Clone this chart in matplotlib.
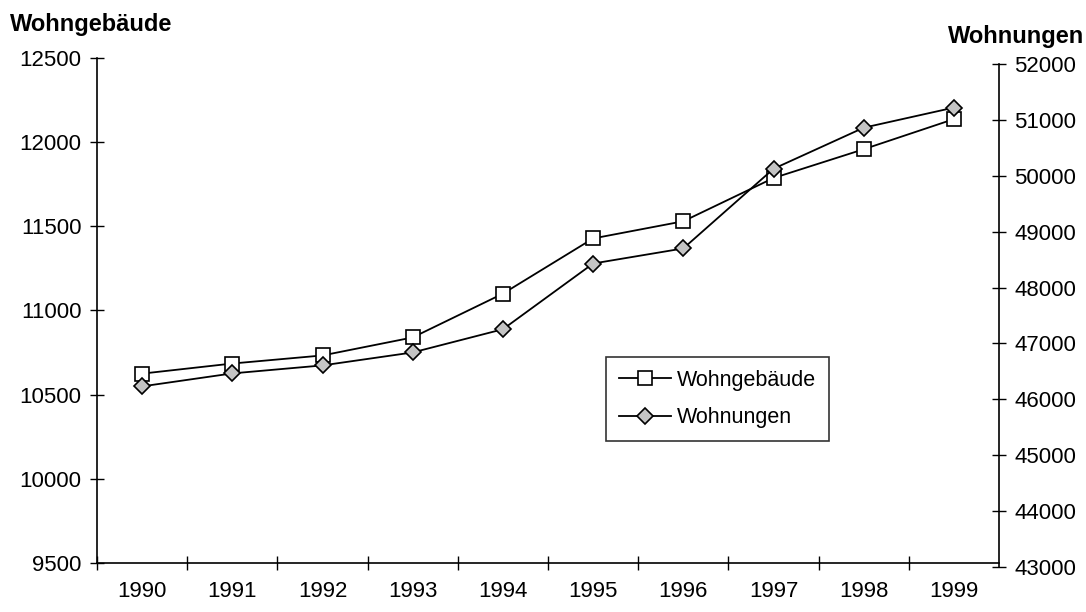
import matplotlib
matplotlib.use("Agg")
import matplotlib.pyplot as plt
from matplotlib.ticker import FixedLocator

plt.rcParams['font.family'] = ['Liberation Sans', 'DejaVu Sans']

years = ['1990', '1991', '1992', '1993', '1994', '1995', '1996', '1997', '1998', '1999']
wohngebaeude = [10625, 10685, 10733, 10840, 11100, 11428, 11530, 11787, 11958, 12137]
wohnungen = [46232, 46464, 46607, 46839, 47254, 48430, 48700, 50125, 50860, 51220]
left_ticks = [9500, 10000, 10500, 11000, 11500, 12000, 12500]
right_ticks = [43000, 44000, 45000, 46000, 47000, 48000, 49000, 50000, 51000, 52000]

W, H = 1086, 612
fig = plt.figure(figsize=(W / 100, H / 100), dpi=100)
ax = fig.add_axes([97 / W, 1 - 563 / H, (999 - 97) / W, (563 - 58) / H])
ax2 = fig.add_axes([97 / W, 1 - 567 / H, (999 - 97) / W, (567 - 64) / H])
ax2.patch.set_visible(False)

x = list(range(len(years)))
l1, = ax.plot(x, wohngebaeude, color='black', lw=1.3, marker='s', markersize=10,
              markerfacecolor='white', markeredgecolor='black', markeredgewidth=1.2,
              label='Wohngebäude')
l2, = ax2.plot(x, wohnungen, color='black', lw=1.3, marker='D', markersize=8,
               markerfacecolor='#c4c4c4', markeredgecolor='black', markeredgewidth=1.2,
               label='Wohnungen')

for a in (ax, ax2):
    a.set_xlim(-0.5, len(years) - 0.5)
ax.set_ylim(9500, 12500)
ax2.set_ylim(43000, 52000)
ax.set_yticks(left_ticks)
ax2.yaxis.tick_right()
ax2.set_yticks(right_ticks)
ax2.set_xticks([])

ax.set_xticks([i - 0.5 for i in range(len(years))])
ax.set_xticklabels([])
ax.xaxis.set_minor_locator(FixedLocator(x))
ax.set_xticklabels(years, minor=True)
ax.tick_params(axis='x', which='minor', length=0, pad=13, labelsize=16)
ax.tick_params(axis='x', which='major', direction='inout', length=10, width=1)
ax.tick_params(axis='y', direction='inout', length=10, width=1, labelsize=16, pad=6)
ax2.tick_params(axis='y', direction='inout', length=10, width=1, labelsize=16, pad=6)

for s in ('top', 'right'):
    ax.spines[s].set_visible(False)
for s in ('top', 'left', 'bottom'):
    ax2.spines[s].set_visible(False)
ax.spines['left'].set_linewidth(1.2)
ax.spines['bottom'].set_linewidth(1.2)
ax2.spines['right'].set_linewidth(1.2)

fig.text(10 / W, 1 - 24 / H, 'Wohngebäude', fontsize=17, fontweight='bold',
         ha='left', va='center')
fig.text(1084 / W, 1 - 37 / H, 'Wohnungen', fontsize=17, fontweight='bold',
         ha='right', va='center')

leg = ax.legend(handles=[l1, l2], loc='upper left',
                bbox_to_anchor=((606 - 97) / 902, (563 - 357) / 505),
                fontsize=15.5, frameon=True, fancybox=False, edgecolor='black',
                borderpad=0.6, handlelength=2.4, handletextpad=0.3, labelspacing=0.75,
                borderaxespad=0)
leg.get_frame().set_linewidth(1.2)

fig.savefig('out.png', dpi=100, facecolor='white')
